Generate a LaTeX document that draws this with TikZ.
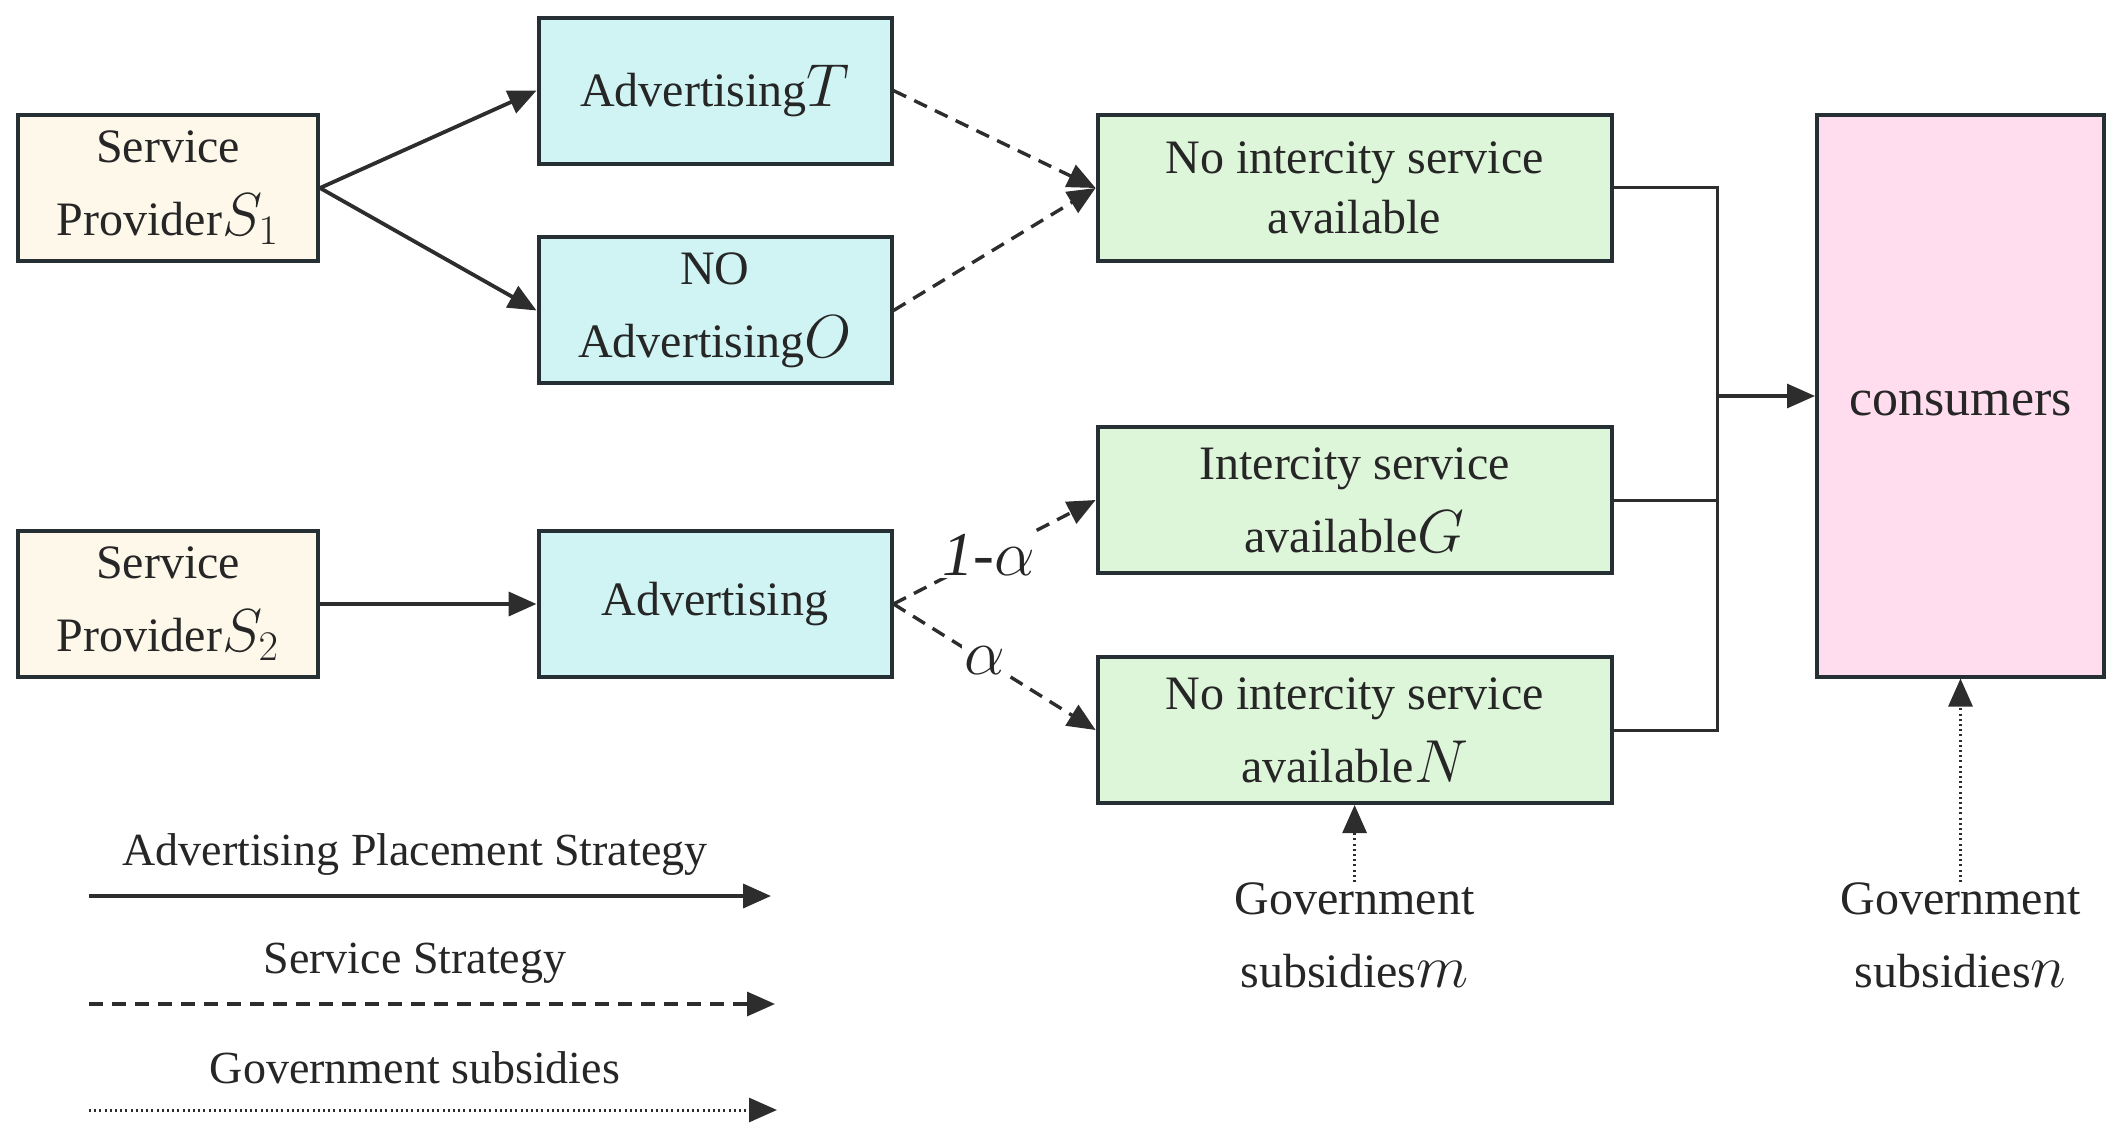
\documentclass[tikz,border=0pt]{standalone}
\usepackage{graphicx}
\usepackage{fontspec}
\setmainfont{Liberation Serif}
\usetikzlibrary{arrows.meta}
\definecolor{bord}{RGB}{38,48,52}
\definecolor{cream}{RGB}{253,248,234}
\definecolor{cyanb}{RGB}{208,244,244}
\definecolor{greenb}{RGB}{221,245,217}
\definecolor{pinkb}{RGB}{255,221,238}
\definecolor{ln}{RGB}{45,45,45}
\newcommand{\mth}[1]{\scalebox{1.22}{$#1$}}
\tikzset{
  box/.style={draw=bord, line width=2pt, align=center, inner sep=0pt,
    font=\fontsize{24}{36.5}\selectfont, text=black!85},
  provbox/.style={box, fill=cream, minimum width=150pt, minimum height=73pt},
  advbox/.style={box, fill=cyanb, minimum width=176.5pt, minimum height=73pt},
  servbox/.style={box, fill=greenb, minimum width=257pt, minimum height=73pt},
  consbox/.style={box, fill=pinkb, minimum width=143.5pt, minimum height=280.5pt, font=\fontsize{26}{30}\selectfont},
  tip/.style={-{Triangle[length=14pt,width=12pt]}},
  solidarr/.style={tip, draw=ln, line width=1.9pt},
  dasharr/.style={tip, draw=ln, line width=1.7pt, dash pattern=on 7pt off 4.5pt},
  dotarr/.style={tip, draw=ln, line width=1.5pt, dash pattern=on 1pt off 1.6pt},
  busline/.style={draw=ln, line width=1.5pt},
  plain/.style={inner sep=0pt, align=center, font=\fontsize{24}{36.5}\selectfont, text=black!85},
  lab/.style={fill=white, inner sep=1pt, font=\fontsize{24}{30}\selectfont, text=black!85},
}
\begin{document}
\begin{tikzpicture}[x=0.5pt,y=-0.5pt]
\useasboundingbox (0,0) rectangle (2111,1134);

\node[provbox] (s1) at (168,188) {Service\\Provider\mth{S_1}};
\node[advbox] (advT) at (715,90.6) {Advertising\mth{T}};
\node[advbox] (noadv) at (715,310.5) {NO\\Advertising\mth{O}};
\node[servbox, font=\fontsize{24}{30}\selectfont] (none) at (1354.6,188) {No intercity service\\available};
\node[consbox, text height=19.6pt, text depth=0pt] (cons) at (1960.5,396) {consumers};
\node[servbox] (inter) at (1354.6,500) {Intercity service\\available\mth{G}};
\node[servbox] (noint) at (1354.6,730) {No intercity service\\available\mth{N}};
\node[provbox] (s2) at (168,604) {Service\\Provider\mth{S_2}};
\node[advbox] (adv) at (715,604) {Advertising};

\draw[solidarr] (s1.east) -- (advT.west);
\draw[solidarr] (s1.east) -- (noadv.west);
\draw[solidarr] (s2.east) -- (adv.west);

\draw[dasharr] (advT.east) -- (none.west);
\draw[dasharr] (noadv.east) -- (none.west);
\draw[dasharr] (adv.east) -- node[lab, pos=0.47] {\scalebox{1.3}{$\mathit{1}$\textit{-}$\alpha$}} (inter.west);
\draw[dasharr] (adv.east) -- node[lab, pos=0.45] {\scalebox{1.3}{$\alpha$}} (noint.west);

\coordinate (b1) at (1717,188);
\coordinate (b2) at (1717,500);
\coordinate (b3) at (1717,730);
\coordinate (bm) at (1717,396);
\draw[busline] (none.east) -- (b1) -- (b3) -- (noint.east);
\draw[busline] (inter.east) -- (b2);
\draw[solidarr, line width=1.6pt] (bm) -- (bm -| cons.west);

\node[plain] (gm) at (1354.6,935) {Government\\subsidies\mth{m}};
\node[plain] (gn) at (1960.5,935) {Government\\subsidies\mth{n}};
\draw[dotarr] (gm.north) -- (noint.south);
\draw[dotarr] (gn.north) -- (cons.south);

% legend
\coordinate (l1a) at (89,896);  \coordinate (l1b) at (771,896);
\coordinate (l2a) at (89,1004); \coordinate (l2b) at (775,1004);
\coordinate (l3a) at (89,1110); \coordinate (l3b) at (777,1110);
\node[plain, font=\fontsize{23}{28}\selectfont] (t1) at (415,855) {Advertising Placement Strategy};
\node[plain, font=\fontsize{23}{28}\selectfont] (t2) at (415,963) {Service Strategy};
\node[plain, font=\fontsize{23}{28}\selectfont] (t3) at (415,1068) {Government subsidies};
\draw[solidarr] (l1a) -- (l1b);
\draw[dasharr] (l2a) -- (l2b);
\draw[dotarr] (l3a) -- (l3b);
\end{tikzpicture}
\end{document}
